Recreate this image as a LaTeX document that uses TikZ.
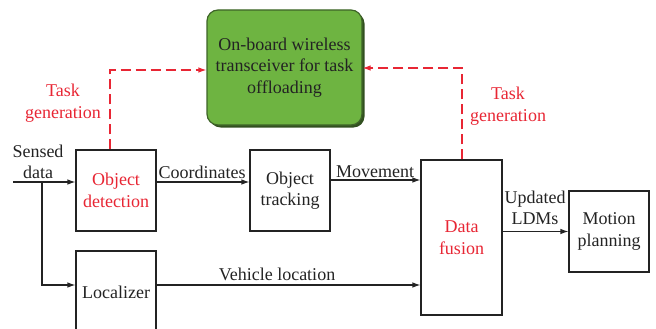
\documentclass[tikz,border=0pt]{standalone}
\usepackage{fontspec}
\setmainfont{Liberation Serif}
\usetikzlibrary{arrows.meta,calc}
\definecolor{ink}{RGB}{35,35,35}
\definecolor{tred}{RGB}{232,38,52}
\definecolor{gfill}{RGB}{110,180,65}
\definecolor{gedge}{RGB}{62,100,40}
\tikzset{
  blk/.style={draw=ink,line width=1.1pt,fill=white,text=ink,align=center,inner sep=0pt,font=\fontsize{18}{21.5}\selectfont},
  lbl/.style={text=ink,align=center,inner sep=0pt,font=\fontsize{18}{21.5}\selectfont},
  rlbl/.style={text=tred,align=center,inner sep=0pt,font=\fontsize{18}{21.5}\selectfont},
  arr/.style={draw=ink,line width=1.1pt,-{Latex[length=8pt,width=5.5pt]}},
  darr/.style={draw=tred,line width=1.2pt,dash pattern=on 10pt off 5pt,-{Latex[length=8pt,width=5.5pt]}},
}
\begin{document}
\begin{tikzpicture}[x=1pt,y=-1pt]
\useasboundingbox (0,0) rectangle (656,329);
% green box shadow
\fill[gedge!80!black,rounded corners=11pt] (209.5,12.5) rectangle (364.5,127.5);
\node[draw=gedge,line width=1.2pt,fill=gfill,rounded corners=11pt,minimum width=155pt,minimum height=115pt,text=ink,align=center,inner sep=0pt,font=\fontsize{18}{21.5}\selectfont] (g) at (284.5,67.5) {On-board wireless\\transceiver for task\\offloading};
% blocks
\node[blk,minimum width=80pt,minimum height=81pt,text=tred] (od) at (116,190.5) {Object\\detection};
\node[blk,minimum width=80pt,minimum height=82pt] (loc) at (116,292) {Localizer};
\node[blk,minimum width=80pt,minimum height=81pt] (ot) at (290,190.5) {Object\\tracking};
\node[blk,minimum width=81pt,minimum height=155pt,text=tred] (df) at (461.5,237.5) {Data\\fusion};
\node[blk,minimum width=80pt,minimum height=81pt] (mp) at (609,231.5) {Motion\\planning};
% coordinates
\coordinate (s) at (13,182);
\coordinate (b) at (42,182);
\coordinate (j1) at (42,285);
\coordinate (mv) at (0,180);
\coordinate (t1) at (110,70);
\coordinate (t2) at (462,68);
% arrows
\draw[arr] (s) -- (s -| od.west);
\draw[arr] (b) -- (j1) -- (j1 -| loc.west);
\draw[arr] (od.east |- s) -- (ot.west |- s);
\draw[arr] (ot.east |- mv) -- (df.west |- mv);
\draw[arr] (loc.east |- j1) -- (df.west |- j1);
\draw[arr] (df.east |- mp) -- (mp.west);
\draw[darr] (t1 |- od.north) -- (t1) -- (t1 -| g.west);
\draw[darr] (t2 |- df.north) -- (t2) -- (t2 -| g.east);
% labels
\node[lbl] (l1) at (38,162) {Sensed\\data};
\node[lbl] (l2) at (202,172) {Coordinates};
\node[lbl] (l3) at (375,172) {Movement};
\node[lbl] (l4) at (277,274) {Vehicle location};
\node[lbl] (l5) at (535,208) {Updated\\LDMs};
\node[rlbl] (l6) at (63,103) {Task\\generation};
\node[rlbl] (l7) at (508,106) {Task\\generation};
\end{tikzpicture}
\end{document}
